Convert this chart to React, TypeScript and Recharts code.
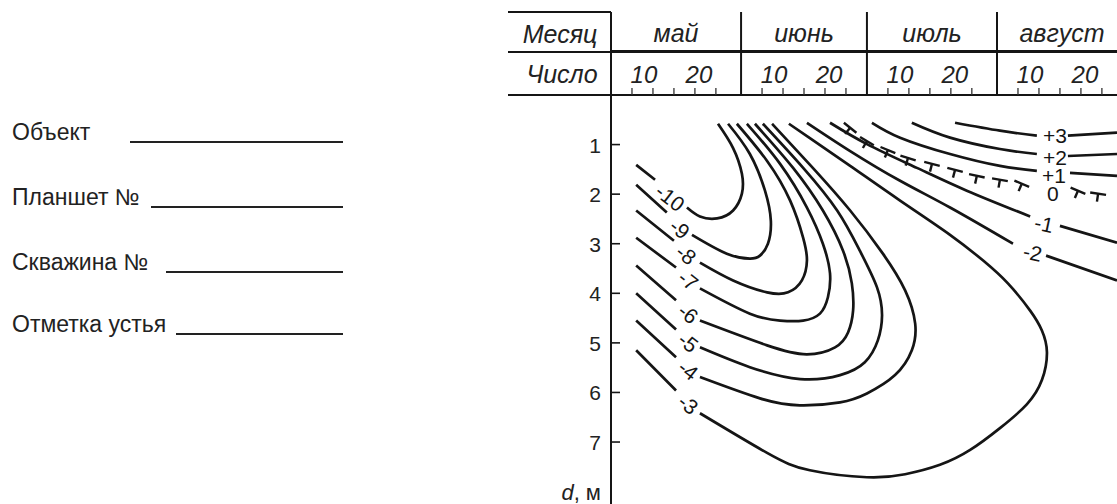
import { ComposedChart, Line, Scatter, XAxis, YAxis } from 'recharts';

type Pt = [number, number] | null;

const monthNames = ['май', 'июнь', 'июль', 'август'];
const monthStarts = [0, 31, 61, 92];
const monthLengths = [31, 30, 31, 31];
const dayMarks = [5, 10, 15, 20, 25];
const dayLabels = [10, 20];
const depthTicks = [1, 2, 3, 4, 5, 6, 7, 8];
const formFields = ['Объект', 'Планшет №', 'Скважина №', 'Отметка устья'];

// isotherms as [days since 1 May, depth in m]; null is the gap left for the label
const isoM10: Pt[] = [[6.0, 1.41], [10.5, 1.71], null, [18.1, 2.27], [21.2, 2.45], [25.3, 2.49], [29.1, 2.33], [31.2, 1.99], [31.2, 1.59], [29.1, 1.07], [25.5, 0.58]];
const isoM9: Pt[] = [[6.0, 1.81], [13.3, 2.37], null, [19.3, 2.82], [27.6, 3.2], [33.1, 3.3], [35.5, 3.24], [37.4, 3.0], [38.1, 2.54], [36.7, 1.93], [33.1, 1.19], [27.9, 0.58]];
const isoM8: Pt[] = [[6.0, 2.33], [15.0, 2.94], null, [21.2, 3.38], [29.1, 3.74], [37.2, 3.98], [42.2, 3.98], [45.5, 3.74], [46.7, 3.34], [45.8, 2.88], [42.7, 2.13], [37.2, 1.33], [30.0, 0.58]];
const isoM7: Pt[] = [[6.0, 2.88], [15.5, 3.48], null, [21.2, 3.9], [33.1, 4.41], [40.3, 4.55], [45.8, 4.55], [49.8, 4.41], [51.7, 4.08], [52.2, 3.6], [50.5, 3.0], [46.7, 2.27], [40.3, 1.39], [32.4, 0.58]];
const isoM6: Pt[] = [[6.0, 3.44], [15.5, 4.14], null, [21.2, 4.55], [37.2, 5.05], [46.7, 5.23], [53.4, 5.09], [56.5, 4.79], [57.7, 4.35], [57.4, 3.8], [55.3, 3.14], [50.5, 2.33], [43.4, 1.47], [34.3, 0.58]];
const isoM5: Pt[] = [[6.0, 4.0], [15.5, 4.73], null, [21.2, 5.09], [33.1, 5.49], [45.1, 5.73], [54.6, 5.65], [60.5, 5.39], [63.6, 4.95], [64.6, 4.45], [63.4, 3.88], [59.3, 3.14], [53.9, 2.33], [45.8, 1.47], [36.2, 0.58]];
const isoM4: Pt[] = [[6.0, 4.55], [15.5, 5.29], null, [21.2, 5.69], [35.5, 6.12], [45.0, 6.26], [54.6, 6.2], [61.0, 6.02], [67.7, 5.65], [71.7, 5.15], [72.5, 4.61], [70.1, 3.94], [64.8, 3.2], [57.0, 2.33], [48.1, 1.47], [38.4, 0.58]];
const isoM3: Pt[] = [[6.0, 5.15], [15.5, 5.96], null, [21.2, 6.42], [37.2, 7.22], [47.4, 7.57], [61.0, 7.71], [70.1, 7.65], [78.4, 7.46], [85.6, 7.16], [92.7, 6.72], [99.1, 6.24], [102.7, 5.75], [103.9, 5.19], [102.7, 4.75], [99.9, 4.35], [94.6, 3.8], [88.7, 3.34], [80.8, 2.82], [68.9, 2.13], [57.0, 1.43], [47.4, 0.87], [42.4, 0.58]];
const isoM2: Pt[] = [[46.7, 0.56], [57.0, 1.13], [68.9, 1.73], [80.8, 2.27], [95.8, 3.0], null, [103.7, 3.24], [120.6, 3.74]];
const isoM1: Pt[] = [[52.2, 0.56], [61.0, 0.99], [72.9, 1.47], [84.8, 1.93], [99.9, 2.45], null, [107.0, 2.64], [120.6, 2.98]];
const iso0: Pt[] = [[57.0, 0.66], [61.0, 0.93], [66.0, 1.11], [70.8, 1.27], [76.5, 1.39], [82.0, 1.51], [87.2, 1.63], [92.7, 1.71], [97.9, 1.79], null, [111.3, 1.93], [116.1, 1.99]];
const isoP1: Pt[] = [[62.2, 0.56], [68.9, 0.86], [80.8, 1.19], [92.7, 1.43], [101.5, 1.53], null, [109.4, 1.57], [120.6, 1.63]];
const isoP2: Pt[] = [[71.7, 0.56], [80.8, 0.86], [92.7, 1.09], [101.5, 1.19], null, [108.9, 1.23], [120.6, 1.19]];
const isoP3: Pt[] = [[82.0, 0.56], [92.7, 0.72], [101.5, 0.82], null, [108.9, 0.82], [120.6, 0.76]];

const isoLabels = [
  { text: '-10', x: 14.1, y: 2.07 },
  { text: '-9', x: 16.4, y: 2.7 },
  { text: '-8', x: 17.9, y: 3.22 },
  { text: '-7', x: 18.4, y: 3.74 },
  { text: '-6', x: 18.4, y: 4.41 },
  { text: '-5', x: 18.4, y: 4.99 },
  { text: '-4', x: 18.4, y: 5.55 },
  { text: '-3', x: 18.4, y: 6.24 },
  { text: '-2', x: 100.5, y: 3.18 },
  { text: '-1', x: 103.2, y: 2.6 },
  { text: '0', x: 105.3, y: 1.99 },
  { text: '+1', x: 105.6, y: 1.63 },
  { text: '+2', x: 105.8, y: 1.27 },
  { text: '+3', x: 105.8, y: 0.82 },
];

const solidIsotherms = [isoM10, isoM9, isoM8, isoM7, isoM6, isoM5, isoM4, isoM3, isoM2, isoM1, isoP1, isoP2, isoP3];

const INK = '#151515';
const FONT = '"Liberation Sans", Arial, sans-serif';
const X_MAX = 120.6;
const DAY_ROW = 43;
const MONTH_ROW = 40;

const dayAxisTicks = monthStarts.flatMap((s) => [s, ...dayMarks.map((d) => s + d)]);
const monthCenters = monthStarts.map((s, i) => s + monthLengths[i] / 2);
// the month axis needs a series of its own, otherwise it gets no ticks
const monthRows = monthCenters.map((x) => ({ x, y: null }));

function toRows(pts: Pt[]) {
  return pts.map((p, i) => {
    if (p) return { x: p[0], y: p[1] };
    const prev = pts[i - 1] as [number, number];
    return { x: prev[0], y: null };
  });
}

function DayTick({ x, y, payload }: any) {
  const v = payload.value;
  const m = monthStarts.filter((s) => s <= v).length - 1;
  const d = v - monthStarts[m];
  if (d === 0) {
    return <line x1={x} x2={x} y1={y} y2={y - DAY_ROW - MONTH_ROW} stroke={INK} strokeWidth={2} />;
  }
  return (
    <g>
      <line x1={x} x2={x} y1={y} y2={y - 7} stroke="#333" strokeWidth={1.3} />
      {dayLabels.includes(d) && (
        <text x={x + (d === 10 ? -9 : 4)} y={y - 12} textAnchor="middle" fontStyle="italic" fontSize={24} fontFamily={FONT} fill="#222">
          {d}
        </text>
      )}
    </g>
  );
}

function MonthTick({ x, y, payload }: any) {
  const i = monthCenters.indexOf(payload.value);
  return (
    <text x={x} y={y - 9} textAnchor="middle" fontStyle="italic" fontSize={25} fontFamily={FONT} fill="#222">
      {monthNames[i]}
    </text>
  );
}

function DepthTick({ x, y, payload }: any) {
  if (payload.value === 8) {
    return (
      <text x={x - 10} y={y + 8} textAnchor="end" fontSize={22} fontFamily={FONT} fill="#222">
        <tspan fontStyle="italic">d</tspan>, м
      </text>
    );
  }
  return (
    <g>
      <line x1={x} x2={x + 9} y1={y} y2={y} stroke={INK} strokeWidth={1.6} />
      <text x={x - 10} y={y + 8} textAnchor="end" fontSize={21} fontFamily={FONT} fill="#222">
        {payload.value}
      </text>
    </g>
  );
}

function IsoLabel({ cx, cy, payload }: any) {
  const tilt = payload.x < 50 ? 38 : payload.text.startsWith('-') ? 12 : 0;
  return (
    <text
      x={cx}
      y={cy}
      transform={`rotate(${tilt} ${cx} ${cy})`}
      textAnchor="middle"
      dominantBaseline="central"
      fontSize={21}
      fontFamily={FONT}
      fill={INK}
    >
      {payload.text}
    </text>
  );
}

/** frost-line tick: a short dash along the curve with a stem hanging below it */
function TMark(props: any) {
  const { cx, cy, index, points } = props;
  if (cx == null || cy == null || Number.isNaN(cx) || Number.isNaN(cy)) return <g key={`t-${index}`} />;
  let ang = 0.4;
  if (Array.isArray(points) && points.length > 1) {
    const a = points[Math.max(0, index - 1)];
    const b = points[Math.min(points.length - 1, index + 1)];
    if (a && b && a.y != null && b.y != null) ang = Math.atan2(b.y - a.y, b.x - a.x);
  }
  const c = Math.cos(ang);
  const s = Math.sin(ang);
  return (
    <g key={`t-${index}`} stroke={INK} strokeWidth={2.4}>
      <line x1={cx - c * 8} y1={cy - s * 8} x2={cx + c * 8} y2={cy + s * 8} />
      <line x1={cx} y1={cy} x2={cx - s * 8} y2={cy + c * 8} />
    </g>
  );
}

export default function App() {
  return (
    <div style={{ position: 'absolute', left: 0, top: 0, width: 1117, height: 504, background: '#fff', overflow: 'hidden' }}>
      <ComposedChart width={1117} height={504} margin={{ top: 11, right: 0, bottom: 0, left: 511 }}>
        <XAxis
          xAxisId="day"
          type="number"
          dataKey="x"
          domain={[0, X_MAX]}
          allowDataOverflow
          orientation="top"
          height={DAY_ROW}
          ticks={dayAxisTicks}
          interval={0}
          tickSize={0}
          tickMargin={0}
          tickLine={false}
          axisLine={{ stroke: INK, strokeWidth: 2 }}
          tick={<DayTick />}
        />
        <XAxis
          xAxisId="month"
          type="number"
          dataKey="x"
          domain={[0, X_MAX]}
          allowDataOverflow
          orientation="top"
          height={MONTH_ROW}
          ticks={monthCenters}
          interval={0}
          tickSize={0}
          tickMargin={0}
          tickLine={false}
          axisLine={{ stroke: INK, strokeWidth: 2 }}
          tick={<MonthTick />}
        />
        <XAxis
          xAxisId="frame"
          type="number"
          domain={[0, X_MAX]}
          allowDataOverflow
          orientation="top"
          height={1}
          tick={false}
          tickLine={false}
          axisLine={{ stroke: INK, strokeWidth: 2 }}
        />
        <YAxis
          type="number"
          dataKey="y"
          domain={[0, 8.25]}
          allowDataOverflow
          reversed
          ticks={depthTicks}
          interval={0}
          width={100}
          tickSize={0}
          tickMargin={0}
          tickLine={false}
          axisLine={{ stroke: INK, strokeWidth: 2 }}
          tick={<DepthTick />}
        />
        <Line
          xAxisId="month"
          data={monthRows}
          dataKey="y"
          stroke="none"
          dot={false}
          activeDot={false}
          isAnimationActive={false}
        />
        {solidIsotherms.map((iso, i) => (
          <Line
            key={`iso-${i}`}
            xAxisId="day"
            data={toRows(iso)}
            dataKey="y"
            type="natural"
            stroke={INK}
            strokeWidth={2.7}
            dot={false}
            activeDot={false}
            connectNulls={false}
            isAnimationActive={false}
          />
        ))}
        <Line
          xAxisId="day"
          data={toRows(iso0)}
          dataKey="y"
          type="natural"
          stroke="none"
          dot={(p: any) => <TMark key={`t-${p.index}`} {...p} />}
          activeDot={false}
          connectNulls={false}
          isAnimationActive={false}
        />
        <Scatter xAxisId="day" data={isoLabels} dataKey="y" shape={<IsoLabel />} isAnimationActive={false} />
      </ComposedChart>

      <svg width={611} height={504} style={{ position: 'absolute', left: 0, top: 0, pointerEvents: 'none' }}>
        <g stroke={INK} strokeWidth={2}>
          <line x1={508} x2={612} y1={12} y2={12} />
          <line x1={508} x2={612} y1={52} y2={52} />
          <line x1={508} x2={612} y1={95} y2={95} />
        </g>
        <text x={560} y={43} textAnchor="middle" fontStyle="italic" fontSize={25} fontFamily={FONT} fill="#222">
          Месяц
        </text>
        <text x={562} y={83} textAnchor="middle" fontStyle="italic" fontSize={25} fontFamily={FONT} fill="#222">
          Число
        </text>
        {formFields.map((f, i) => {
          const base = [140, 205, 270, 332][i];
          const start = [130, 151, 166, 176][i];
          return (
            <g key={f}>
              <text x={12} y={base} fontSize={23} fontFamily={FONT} fill="#222">
                {f}
              </text>
              <line x1={start} x2={343} y1={base + 2} y2={base + 2} stroke="#222" strokeWidth={2} />
            </g>
          );
        })}
      </svg>
    </div>
  );
}
